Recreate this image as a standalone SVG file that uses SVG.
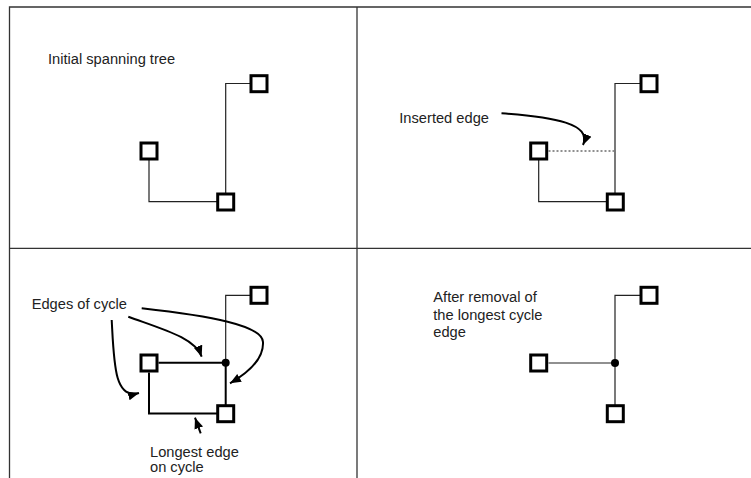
<svg xmlns="http://www.w3.org/2000/svg" width="751" height="478" viewBox="0 0 751 478">
<style>
.frame{stroke:#333;stroke-width:1.3;fill:none}
.node{fill:#fff;stroke:#000;stroke-width:3}
.edge{stroke:#222;stroke-width:1.2;fill:none}
.thick{stroke:#000;stroke-width:2;fill:none}
.dot{fill:#000}
.arrow{stroke:#000;stroke-width:2;fill:none;marker-end:url(#ah)}
.lbl{font-family:"Liberation Sans",Arial,sans-serif;font-size:14.67px;fill:#222}
</style>
<defs>
<marker id="ah" markerUnits="userSpaceOnUse" markerWidth="12" markerHeight="12" viewBox="0 0 12 12" refX="11" refY="6" orient="auto">
<path d="M0,1.5 L11,6 L0,10.5 Z" fill="#000"/>
</marker>
</defs>
<rect width="751" height="478" fill="#fff"/>
<g id="frame">
<path class="frame" d="M9.5,478 V7 H751"/>
<path class="frame" d="M357,7 V478"/>
<path class="frame" d="M9.5,248.3 H751"/>
</g>
<g id="connectors">
<!-- panel 1 -->
<path class="edge" d="M149,159 V201.7 H217.5"/>
<path class="edge" d="M225.7,193.5 V83.5 H250.5"/>
<!-- panel 2 -->
<path class="edge" d="M538.7,159 V201.7 H607"/>
<path class="edge" d="M615,193.5 V83.5 H640.5"/>
<path class="edge" d="M548.5,151 H614" stroke-dasharray="2,2"/>
<path class="arrow" d="M501.5,113.3 C555,117 592,124 583,145"/>
<!-- panel 3 -->
<path class="edge" d="M225.7,362.7 V295.3 H250.5"/>
<path class="thick" d="M158.5,362.7 H225.7"/>
<path class="thick" d="M225.7,362.7 V405"/>
<path class="thick" d="M149,372.5 V413.5 H217"/>
<circle class="dot" cx="225.7" cy="362.7" r="4"/>
<path class="arrow" d="M141.7,308.3 C210,316 262,325 263,342 C264,360 246,374 230,383.3"/>
<path class="arrow" d="M128.3,316.7 C165,330 195,338 201.7,356.7"/>
<path class="arrow" d="M111.7,320 C114,362 114,400 139,393"/>
<path class="arrow" d="M200.7,433.3 L195,417.7"/>
<!-- panel 4 -->
<path class="edge" d="M548.5,363 H615"/>
<path class="edge" d="M615,405 V295.3 H640.5"/>
<circle class="dot" cx="615" cy="363" r="4"/>
</g>
<g id="p1-a"><rect class="node" x="141" y="143" width="16" height="16"/></g>
<g id="p1-b"><rect class="node" x="217.7" y="194" width="16" height="16"/></g>
<g id="p1-c"><rect class="node" x="251" y="75.7" width="16" height="16"/></g>
<g id="p2-a"><rect class="node" x="530.7" y="143" width="16" height="16"/></g>
<g id="p2-b"><rect class="node" x="607.3" y="194" width="16" height="16"/></g>
<g id="p2-c"><rect class="node" x="641" y="75.7" width="16" height="16"/></g>
<g id="p3-a"><rect class="node" x="141" y="355" width="16" height="16"/></g>
<g id="p3-b"><rect class="node" x="217.7" y="405.7" width="16" height="16"/></g>
<g id="p3-c"><rect class="node" x="251" y="287.3" width="16" height="16"/></g>
<g id="p4-a"><rect class="node" x="530.7" y="355" width="16" height="16"/></g>
<g id="p4-b"><rect class="node" x="607.3" y="405.7" width="16" height="16"/></g>
<g id="p4-c"><rect class="node" x="641" y="287.3" width="16" height="16"/></g>
<g id="labels">
<text class="lbl" x="48" y="64">Initial spanning tree</text>
<text class="lbl" x="399.3" y="123.3">Inserted edge</text>
<text class="lbl" x="31.7" y="309">Edges of cycle</text>
<text class="lbl" x="150" y="456.7">Longest edge</text>
<text class="lbl" x="150" y="472">on cycle</text>
<text class="lbl" x="433.3" y="301.7">After removal of</text>
<text class="lbl" x="433.3" y="319.5">the longest cycle</text>
<text class="lbl" x="433.3" y="337.3">edge</text>
</g>
</svg>
